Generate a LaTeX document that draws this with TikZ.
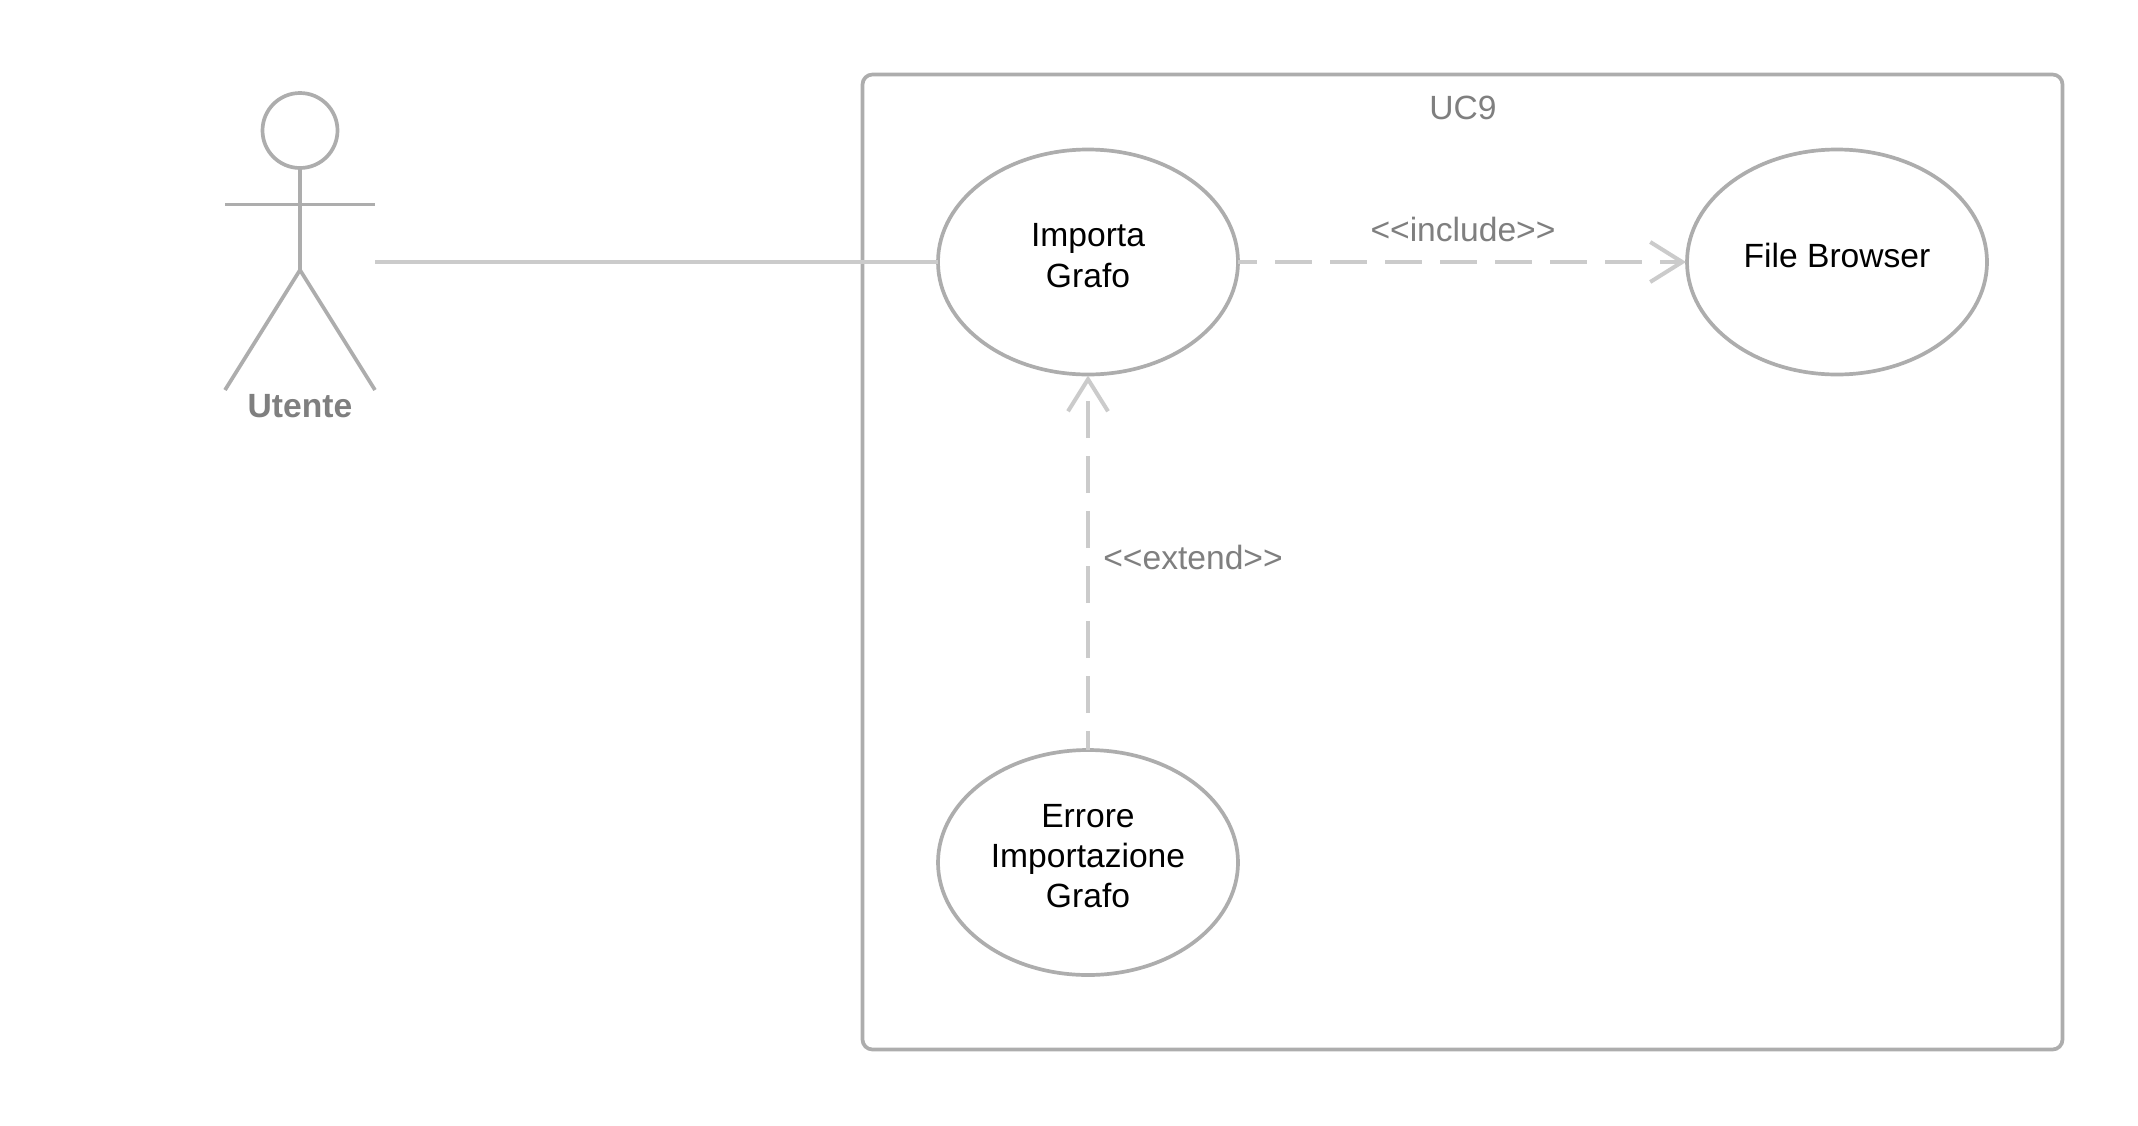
\documentclass[tikz,border=0pt]{standalone}
\usepackage{fontspec}
\setmainfont{Liberation Sans}
\usetikzlibrary{arrows.meta,shapes.geometric}
\definecolor{shapegray}{HTML}{ADADAD}
\definecolor{linkgray}{HTML}{CBCBCB}
\definecolor{labelgray}{HTML}{7F7F7F}
\tikzset{
  x=1pt,y=-1pt,
  usecase/.style={ellipse,draw=shapegray,line width=3.7pt,fill=white,minimum width=300pt,minimum height=225pt,inner sep=0pt,outer sep=0pt},
  casetext/.style={align=center,text=black,inner sep=0pt,yshift=6.5pt,font=\fontsize{33.6}{40.3}\selectfont},
  boxlabel/.style={text=labelgray,inner sep=0pt,font=\fontsize{33.6}{40.3}\selectfont},
  actorline/.style={draw=shapegray,line width=3.7pt},
  assoc/.style={draw=linkgray,line width=4.4pt},
  depend/.style={draw=linkgray,line width=4.4pt,dash pattern=on 37pt off 18pt,dash phase=18pt,shorten >=1pt,-{Straight Barb[length=32pt,width=40pt,line width=4pt]}}
}
\begin{document}
\begin{tikzpicture}
\useasboundingbox (0,0) rectangle (2138,1125);
\fill[white] (0,0) rectangle (2138,1125);
% system box
\node[draw=shapegray,line width=3.7pt,rounded corners=10pt,minimum width=1200pt,minimum height=975pt,inner sep=0pt,outer sep=0pt] (system) at (1462.5,562) {};
\node[boxlabel] (title) at (1463,107.5) {UC9};
% actor
\node[circle,draw=shapegray,line width=3.7pt,minimum size=75pt,inner sep=0pt,outer sep=0pt] (head) at (300,130.5) {};
\coordinate (hip) at (300,270);
\coordinate (armL) at (225,204.5);
\coordinate (armR) at (375,204.5);
\coordinate (legL) at (225,390);
\coordinate (legR) at (375,390);
\draw[actorline] (head.south) -- (hip);
\draw[actorline] (armL) -- (armR);
\draw[actorline] (legL) -- (hip) -- (legR);
\node[text=labelgray,inner sep=0pt,font=\fontsize{33.6}{40.3}\selectfont\bfseries] (actor) at (300,406.5) {Utente};
\coordinate (hand) at (375,262);
% use cases
\node[usecase] (import) at (1088,262) {};
\node[usecase] (browser) at (1837,262) {};
\node[usecase] (error) at (1088,862.5) {};
\node[casetext] (importtext) at (import) {Importa\\Grafo};
\node[casetext] (browsertext) at (browser) {File Browser};
\node[casetext] (errortext) at (error) {Errore\\Importazione\\Grafo};
% connectors
\draw[assoc] (hand) -- (import.west |- hand);
\draw[depend] (import.east) -- (browser.west);
\draw[depend] (error.north) -- (import.south);
\node[boxlabel] (inc) at (1463,229) {{<}{<}include{>}{>}};
\node[boxlabel] (ext) at (1193,557.5) {{<}{<}extend{>}{>}};
\end{tikzpicture}
\end{document}
